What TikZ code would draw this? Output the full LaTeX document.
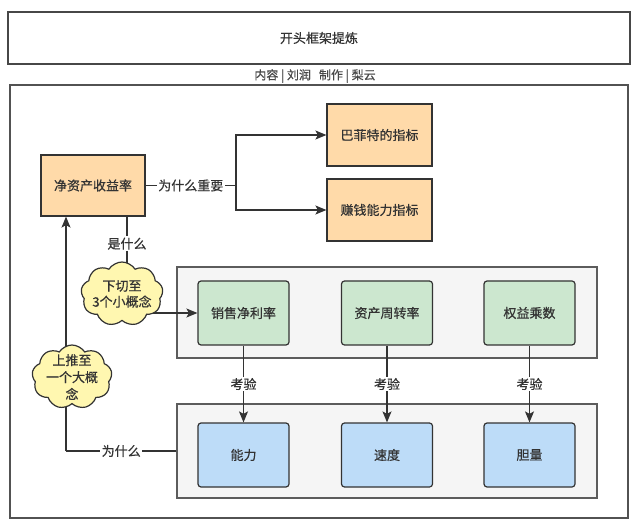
\documentclass[tikz,border=0pt]{standalone}
\usepackage{fontspec}
\newfontfamily\cjk{Noto Sans CJK SC}[FakeBold=0.6]
\usetikzlibrary{shapes.symbols,arrows.meta}
\pgfdeclarelayer{bg}
\pgfdeclarelayer{mid}
\pgfsetlayers{bg,mid,main}
\definecolor{ink}{HTML}{333333}
\definecolor{peach}{HTML}{FFDAA9}
\definecolor{mint}{HTML}{CCE7CF}
\definecolor{sky}{HTML}{BDDCF8}
\definecolor{lemon}{HTML}{FFF7B0}
\definecolor{grpfill}{HTML}{F5F5F5}
\tikzset{
  txt/.style={font=\cjk\fontsize{13}{16}\selectfont, text=ink},
  box/.style={txt, draw=ink, line width=1.2pt, inner sep=0pt},
  orangebox/.style={box, fill=peach},
  greenbox/.style={box, fill=mint, rounded corners=3pt, minimum width=91pt, minimum height=64pt},
  bluebox/.style={box, fill=sky, rounded corners=3pt, minimum width=91pt, minimum height=64pt},
  grp/.style={draw=ink!80, line width=1.2pt, fill=grpfill, minimum width=420pt},
  cloudnode/.style={cloud, cloud puffs=9, cloud puff arc=115, cloud ignores aspect, draw=ink, line width=1.2pt, fill=lemon, inner sep=0pt},
  conn/.style={draw=ink, line width=1.2pt},
  arr/.style={conn, -{Stealth[length=11pt,width=9pt,inset=2.5pt]}},
  lbl/.style={txt, fill=white, inner sep=1.5pt},
}
\begin{document}
\begin{tikzpicture}[x=1pt,y=-1pt]
\useasboundingbox (0,0) rectangle (640,529);
% title
\node[txt, draw=ink!90, line width=1.5pt, minimum width=622pt, minimum height=52pt, inner sep=0pt] (title) at (319,38) {开头框架提炼};
\node[txt, font=\cjk\fontsize{12}{14}\selectfont, text=ink!90] (sub) at (315,76) {内容 | 刘润\ \ \ 制作 | 梨云};
% outer frame
\begin{pgfonlayer}{bg}
\node[draw=ink!85, line width=1.5pt, minimum width=618pt, minimum height=433pt, inner sep=0pt] (outer) at (319,301.5) {};
\node[grp, minimum height=91pt, inner sep=0pt] (grp1) at (387,312.5) {};
\node[grp, minimum height=94pt, inner sep=0pt] (grp2) at (387,451) {};
\end{pgfonlayer}
% main nodes
\node[orangebox, minimum width=104pt, minimum height=61pt] (roe) at (93,185.5) {净资产收益率};
\node[orangebox, minimum width=105pt, minimum height=62pt] (buf) at (379.5,135) {巴菲特的指标};
\node[orangebox, minimum width=105pt, minimum height=62pt] (earn) at (379.5,210) {赚钱能力指标};
\node[greenbox] (g1) at (243.5,313) {销售净利率};
\node[greenbox] (g2) at (387,313) {资产周转率};
\node[greenbox] (g3) at (529.5,313) {权益乘数};
\node[bluebox] (b1) at (243.5,455) {能力};
\node[bluebox] (b2) at (387,455) {速度};
\node[bluebox] (b3) at (529.5,455) {胆量};
\node[cloudnode, minimum width=82pt, minimum height=64pt] (c1) at (122,294) {};
\node[txt, align=center, inner sep=0pt] (c1t) at (c1.center) {下切至\\3个小概念};
\node[cloudnode, minimum width=80pt, minimum height=64pt] (c2) at (72,377) {};
\node[txt, align=center, inner sep=0pt, font=\cjk\fontsize{13}{17}\selectfont] (c2t) at (c2.center) {上推至\\一个大概\\念};
% connectors
\coordinate (j) at (236,185.5);
\coordinate (k) at (66,451);
\coordinate (r1) at ([xshift=34pt]roe.south);
\begin{pgfonlayer}{mid}
\draw[conn] (roe.east) -- node[lbl] {为什么重要} (j);
\draw[arr] (j) |- (buf.west);
\draw[arr] (j) |- (earn.west);
\draw[conn] (r1) -- node[lbl, pos=0.35] {是什么} (r1 |- c1.center);
\draw[arr] (c1.center |- g1.west) -- (g1.west);
\draw[arr] (g1.south) -- node[lbl] {考验} (b1.north);
\draw[arr] (g2.south) -- node[lbl] {考验} (b2.north);
\draw[arr] (g3.south) -- node[lbl] {考验} (b3.north);
\draw[conn] (grp2.west) -- node[lbl] {为什么} (k);
\draw[arr] (k) -- (k |- roe.south);
\end{pgfonlayer}
\end{tikzpicture}
\end{document}
